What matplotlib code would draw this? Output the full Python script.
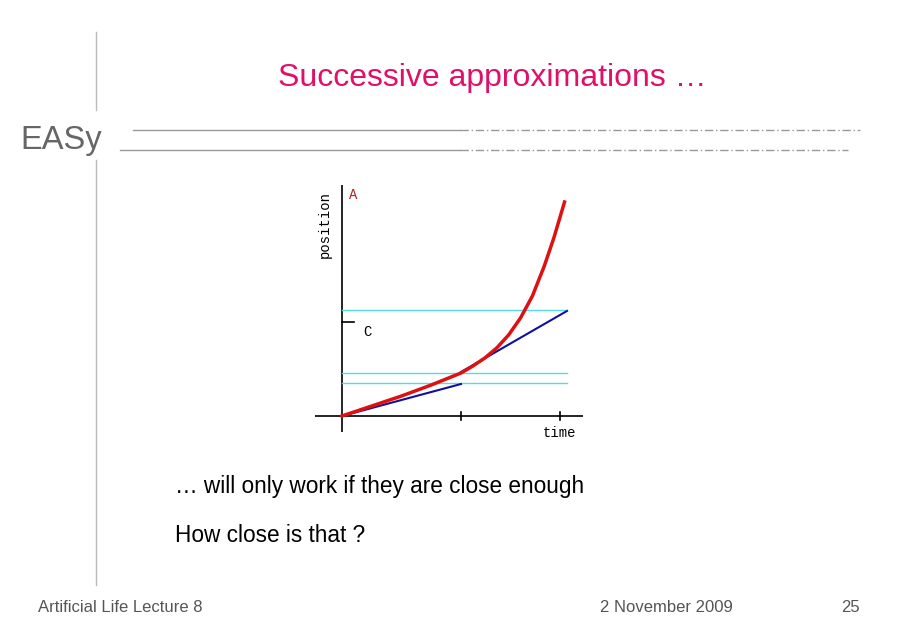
import matplotlib
matplotlib.use("Agg")
import matplotlib.pyplot as plt
from matplotlib.lines import Line2D

# data (time units, position in pixel-like units)
red_t = [0, 0.25, 0.5, 0.75, 1.0, 1.1, 1.2, 1.3, 1.4, 1.5, 1.6, 1.7, 1.78, 1.87]
red_pos = [0, 10, 20, 31, 43, 50, 58, 68, 81, 98, 120, 150, 178, 214]
blue1_t = [0, 1.0]
blue1_pos = [0, 32]
blue2_t = [1.0, 1.89]
blue2_pos = [44, 105]
cyan_levels = [106, 43, 33]
cyan_end = 1.89
c_level = 94
x_ticks = [1.0, 1.83]

W, H = 900, 633
fig = plt.figure(figsize=(9, 6.33), dpi=100)
fig.patch.set_facecolor("white")
narrow = ["Liberation Sans Narrow", "Liberation Sans", "DejaVu Sans"]
light = dict(family=narrow)

def fx(x): return x / W
def fy(y): return 1 - y / H

# slide decorations
fig.add_artist(Line2D([fx(96)]*2, [fy(32), fy(110)], color="#bbbbbb", lw=1))
fig.add_artist(Line2D([fx(96)]*2, [fy(160), fy(585)], color="#bbbbbb", lw=1))
fig.add_artist(Line2D([fx(133), fx(460)], [fy(130)]*2, color="#999999", lw=1))
fig.add_artist(Line2D([fx(460), fx(860)], [fy(130)]*2, color="#999999", lw=1, ls=(0, (6, 2, 1, 2))))
fig.add_artist(Line2D([fx(120), fx(460)], [fy(150)]*2, color="#999999", lw=1))
fig.add_artist(Line2D([fx(460), fx(848)], [fy(150)]*2, color="#999999", lw=1, ls=(0, (6, 2, 1, 2))))
fig.text(fx(492), fy(78), "Successive approximations …", color="#e0106a", fontsize=23, ha="center", va="center", **light)
fig.text(fx(20), fy(140), "EASy", color="#666666", fontsize=23.5, ha="left", va="center", **light)
fig.text(fx(175), fy(487), "… will only work if they are close enough", fontsize=16.3, ha="left", va="center", **light)
fig.text(fx(175), fy(536), "How close is that ?", fontsize=16.3, ha="left", va="center", **light)
fig.text(fx(38), fy(608), "Artificial Life Lecture 8", color="#555555", fontsize=12, ha="left", va="center", **light)
fig.text(fx(600), fy(608), "2 November 2009", color="#555555", fontsize=12, ha="left", va="center", **light)
fig.text(fx(860), fy(608), "25", color="#555555", fontsize=12, ha="right", va="center", **light)

# plot axes
x0, x1, y0, y1 = 315, 583, 185, 432
ax = fig.add_axes([fx(x0), fy(y1), (x1 - x0) / W, (y1 - y0) / H])
ax.set_xlim((x0 - 342) / 119, (x1 - 342) / 119)
ax.set_ylim(416 - y1, 416 - y0)
ax.axis("off")
ax.axhline(0, color="black", lw=1.2)
ax.axvline(0, color="black", lw=1.2)
for t in x_ticks:
    ax.plot([t, t], [-4, 4], color="black", lw=1.2)
ax.plot([0, 0.1], [c_level, c_level], color="black", lw=1.2)
for lv in cyan_levels:
    ax.plot([0, cyan_end], [lv, lv], color="#55dddd", lw=1)
ax.plot(blue1_t, blue1_pos, color="#1010a0", lw=1.5)
ax.plot(blue2_t, blue2_pos, color="#1010a0", lw=1.5)
ax.plot(red_t, red_pos, color="#dd1111", lw=2.5)
mono = dict(family=["Liberation Mono", "DejaVu Sans Mono"], fontsize=10)
ax.text(0.06, 228, "A", color="#aa2222", va="top", **mono)
ax.text(0.18, c_level - 3, "C", va="top", **mono)
ax.text(1.83, -10, "time", ha="center", va="top", **mono)
fig.text(fx(325), fy(225), "position", rotation=90, ha="center", va="center", **mono)

fig.savefig("out.png", dpi=100)
